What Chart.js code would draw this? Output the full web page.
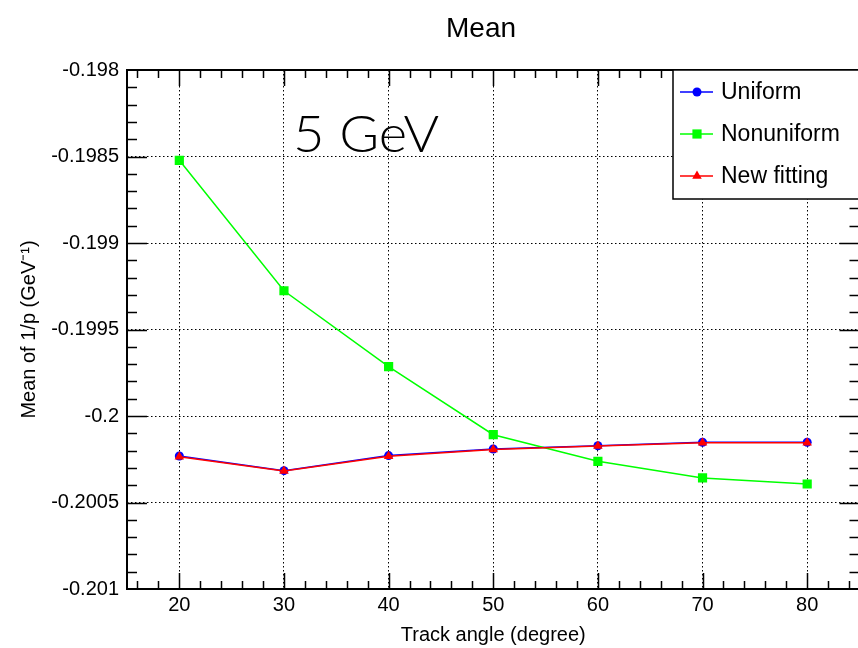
<!DOCTYPE html>
<html>
<head>
<meta charset="utf-8">
<script src="https://cdn.jsdelivr.net/npm/chart.js@4.4.0/dist/chart.umd.min.js"></script>
<style>
  html, body { margin: 0; padding: 0; background: #fff; overflow: hidden; }
</style>
</head>
<body>
<canvas id="meanChart" width="866" height="648"></canvas>
<script>
// mean of 1/p vs track angle, 5 GeV tracks
const angles = [20, 30, 40, 50, 60, 70, 80];
const uniform = [-0.200231, -0.200316, -0.200229, -0.200191, -0.200172, -0.200152, -0.200152];
const nonuniform = [-0.198522, -0.199276, -0.199715, -0.200108, -0.200262, -0.200358, -0.200393];
const newFitting = [-0.200235, -0.200318, -0.200232, -0.200193, -0.200174, -0.200155, -0.200155];

const xTicks = [20, 30, 40, 50, 60, 70, 80];
const yTicks = [-0.201, -0.2005, -0.2, -0.1995, -0.199, -0.1985, -0.198];
const yTickLabels = ['-0.201', '-0.2005', '-0.2', '-0.1995', '-0.199', '-0.1985', '-0.198'];

const FONT = "'Liberation Sans', Arial, sans-serif";

function points(values) {
    return angles.map((a, i) => ({ x: a, y: values[i] }));
}

// ROOT style frame with inward ticks on all four sides
const frameTicks = {
    id: 'frameTicks',
    beforeDatasetsDraw(chart) {
        const { ctx, chartArea: a, scales: { x, y } } = chart;
        ctx.save();
        ctx.strokeStyle = '#000';
        ctx.lineWidth = 1.5;
        ctx.beginPath();
        for (let v = 16; v <= 84; v += 2) {
            const px = Math.round(x.getPixelForValue(v)) + 0.5;
            const len = v % 10 === 0 ? 16 : 8;
            ctx.moveTo(px, a.bottom); ctx.lineTo(px, a.bottom - len);
            ctx.moveTo(px, a.top); ctx.lineTo(px, a.top + len);
        }
        for (let k = -2009; k <= -1981; k++) {
            const py = Math.round(y.getPixelForValue(k / 10000)) + 0.5;
            const len = k % 5 === 0 ? 20 : 10;
            ctx.moveTo(a.left, py); ctx.lineTo(a.left + len, py);
            ctx.moveTo(a.right, py); ctx.lineTo(a.right - len, py);
        }
        ctx.stroke();
        ctx.lineWidth = 2;
        ctx.strokeRect(a.left, a.top, a.right - a.left, a.bottom - a.top);
        ctx.restore();
    },
    afterDatasetsDraw(chart) {
        const { ctx } = chart;
        ctx.save();
        // energy label, light face stretched to the usual width
        ctx.fillStyle = '#000';
        ctx.font = "300 52px Lato, 'Open Sans', sans-serif";
        ctx.textBaseline = 'alphabetic';
        ctx.textAlign = 'left';
        const w = ctx.measureText('5 GeV').width;
        ctx.save();
        ctx.translate(293, 152);
        ctx.scale(146 / w, 1);
        ctx.fillText('5 GeV', 0, 0);
        ctx.restore();

        // legend box
        ctx.fillStyle = '#fff';
        ctx.fillRect(673, 70, 200, 129);
        ctx.strokeStyle = '#000';
        ctx.lineWidth = 1.5;
        ctx.strokeRect(673, 70, 200, 129);
        chart.data.datasets.forEach((ds, row) => {
            const cy = 92 + row * 42;
            ctx.strokeStyle = ds.borderColor;
            ctx.lineWidth = 1.5;
            ctx.beginPath();
            ctx.moveTo(680, cy); ctx.lineTo(713, cy);
            ctx.stroke();
            ctx.fillStyle = ds.borderColor;
            Chart.helpers.drawPoint(ctx, {
                pointStyle: ds.pointStyle, radius: ds.pointRadius, rotation: 0, borderWidth: 0
            }, 697, cy);
            ctx.fillStyle = '#000';
            ctx.font = '23px ' + FONT;
            ctx.textBaseline = 'middle';
            ctx.fillText(ds.label, 721, cy + 1);
        });

        // title
        ctx.font = '28px ' + FONT;
        ctx.textAlign = 'center';
        ctx.textBaseline = 'alphabetic';
        ctx.fillStyle = '#000';
        ctx.fillText('Mean', 481, 37);
        ctx.restore();
    }
};

const ctx = document.getElementById('meanChart').getContext('2d');
const meanChart = new Chart(ctx, {
    type: 'line',
    data: {
        datasets: [
            {
                label: 'Uniform',
                data: points(uniform),
                borderColor: '#0000ff',
                backgroundColor: '#0000ff',
                borderWidth: 1.5,
                pointStyle: 'circle',
                pointRadius: 4.5,
                pointBorderWidth: 0,
                order: 2
            },
            {
                label: 'Nonuniform',
                data: points(nonuniform),
                borderColor: '#00ff00',
                backgroundColor: '#00ff00',
                borderWidth: 1.5,
                pointStyle: 'rect',
                pointRadius: 6.5,
                pointBorderWidth: 0,
                order: 1
            },
            {
                label: 'New fitting',
                data: points(newFitting),
                borderColor: '#ff0000',
                backgroundColor: '#ff0000',
                borderWidth: 1.5,
                pointStyle: 'triangle',
                pointRadius: 5.5,
                pointBorderWidth: 0,
                order: 0
            }
        ]
    },
    options: {
        responsive: false,
        animation: false,
        layout: { padding: { top: 70, right: 5, left: 0, bottom: 0 } },
        elements: { line: { tension: 0, fill: false } },
        scales: {
            x: {
                type: 'linear',
                min: 15,
                max: 85,
                afterBuildTicks: (scale) => { scale.ticks = xTicks.map(v => ({ value: v })); },
                afterFit: (scale) => { scale.height = 59; },
                grid: { color: '#000', lineWidth: 1, drawTicks: false },
                border: { display: false, dash: [1.5, 2.5] },
                ticks: {
                    color: '#000',
                    padding: 4,
                    maxRotation: 0,
                    font: { family: FONT, size: 20 }
                },
                title: {
                    display: true,
                    text: 'Track angle (degree)',
                    color: '#000',
                    font: { family: FONT, size: 20 },
                    padding: { top: 0, bottom: 1 }
                }
            },
            y: {
                min: -0.201,
                max: -0.198,
                afterBuildTicks: (scale) => { scale.ticks = yTicks.map(v => ({ value: v })); },
                afterFit: (scale) => { scale.width = 127; },
                grid: { color: '#000', lineWidth: 1, drawTicks: false },
                border: { display: false, dash: [1.5, 2.5] },
                ticks: {
                    color: '#000',
                    padding: 8,
                    font: { family: FONT, size: 20 },
                    callback: (value) => {
                        const i = yTicks.findIndex(t => Math.abs(t - value) < 1e-9);
                        return i >= 0 ? yTickLabels[i] : '';
                    }
                },
                title: {
                    display: true,
                    text: 'Mean of 1/p (GeV\u207B\u00B9)',
                    color: '#000',
                    font: { family: FONT, size: 20 },
                    padding: { top: 17, bottom: 0 }
                }
            }
        },
        plugins: {
            legend: { display: false },
            tooltip: { enabled: false }
        }
    },
    plugins: [frameTicks]
});
</script>
</body>
</html>
